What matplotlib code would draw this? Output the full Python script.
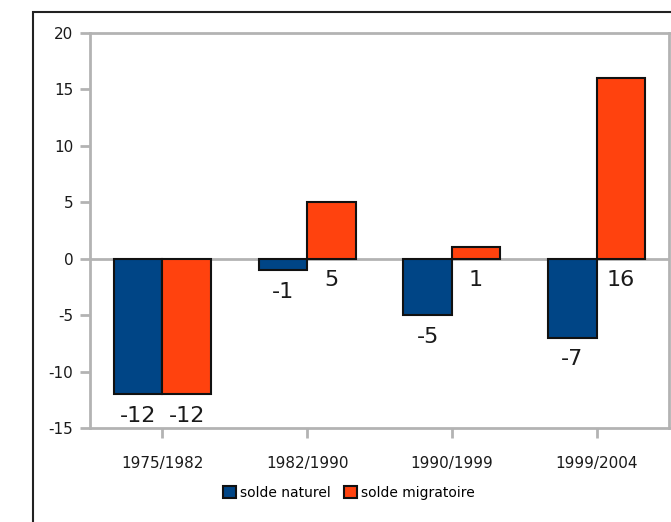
import matplotlib
matplotlib.use("Agg")
import matplotlib.pyplot as plt
from matplotlib.patches import Rectangle
import numpy as np

categories = ["1975/1982", "1982/1990", "1990/1999", "1999/2004"]
solde_naturel = [-12, -1, -5, -7]
solde_migratoire = [-12, 5, 1, 16]
yticks = [-15, -10, -5, 0, 5, 10, 15, 20]

plt.rcParams['font.family'] = ['DejaVu Sans']
fig = plt.figure(figsize=(6.71, 5.22), dpi=100)

# outer frame
fig.patches.append(Rectangle((33/671, -0.1), 1.0, 1 - 12/522 + 0.1, transform=fig.transFigure,
                             fill=False, edgecolor='#222222', linewidth=1.5, zorder=0))

ax = fig.add_axes([90/671, 94/522, 579/671, 395/522])
gray = '#b3b3b3'
x = np.arange(len(categories))
w = 0.335
blue = '#004586'
orange = '#ff420e'
b1 = ax.bar(x - w/2, solde_naturel, w, color=blue, edgecolor='#111111', linewidth=1.5,
            label='solde naturel', zorder=3)
b2 = ax.bar(x + w/2, solde_migratoire, w, color=orange, edgecolor='#111111', linewidth=1.5,
            label='solde migratoire', zorder=3)
ax.axhline(0, color=gray, linewidth=2, zorder=2)

for bars, vals in ((b1, solde_naturel), (b2, solde_migratoire)):
    for rect, v in zip(bars, vals):
        cx = rect.get_x() + rect.get_width()/2
        ax.annotate(str(v), (cx, min(v, 0)), xytext=(0, -15.5), textcoords='offset points',
                    ha='center', va='center', fontsize=16, color='#1a1a1a')

ax.set_xlim(-0.5, 3.5)
ax.set_ylim(-15, 20)
ax.set_yticks(yticks)
ax.set_yticklabels([str(t) for t in yticks], fontsize=11, color='#1a1a1a')
ax.set_xticks(x)
ax.set_xticklabels(categories, fontsize=11, color='#1a1a1a')
for s in ax.spines.values():
    s.set_color(gray)
    s.set_linewidth(2)
ax.tick_params(axis='both', colors=gray, width=2, length=7, labelcolor='#1a1a1a')
ax.tick_params(axis='x', pad=13)
ax.tick_params(axis='y', pad=5)

leg = fig.legend(handles=[b1, b2], loc='center', bbox_to_anchor=(349/671, 1 - 493/522),
                 ncol=2, frameon=False, fontsize=10, handlelength=0.9, handleheight=0.9,
                 handletextpad=0.3, columnspacing=1.0)
fig.savefig('out.png', dpi=100)
